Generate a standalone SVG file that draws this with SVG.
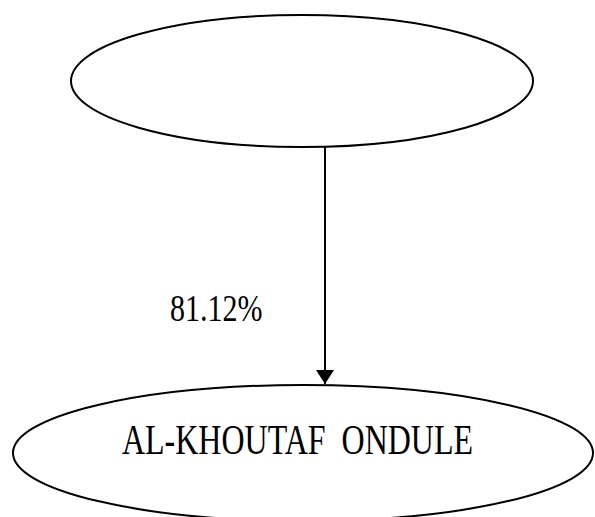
<svg xmlns="http://www.w3.org/2000/svg" width="595" height="517" viewBox="0 0 595 517">
<style>
.node{fill:#fff;stroke:#000;stroke-width:2}
.lbl{font-family:"Liberation Serif","Times New Roman",serif;fill:#000}
.edge{stroke:#000;stroke-width:2;fill:none}
</style>
<defs>
<marker id="ah" markerWidth="14" markerHeight="18" refX="14" refY="9" orient="auto" markerUnits="userSpaceOnUse">
<path d="M0,0 L14,9 L0,18 Z" fill="#000"/>
</marker>
</defs>
<rect width="595" height="517" fill="#fff"/>
<g id="node-top">
<ellipse class="node" cx="302" cy="81" rx="231" ry="66"/>
</g>
<g id="node-bottom">
<ellipse class="node" cx="303" cy="453" rx="290" ry="68"/>
<text class="lbl" font-size="32" text-anchor="middle" xml:space="preserve" transform="translate(297.5,454) scale(1,1.3)">AL-KHOUTAF  ONDULE</text>
</g>
<g id="connectors">
<line class="edge" x1="325" y1="147" x2="325" y2="384" marker-end="url(#ah)"/>
<text class="lbl" font-size="30" transform="translate(170,321) scale(1,1.25)">81.12%</text>
</g>
</svg>
